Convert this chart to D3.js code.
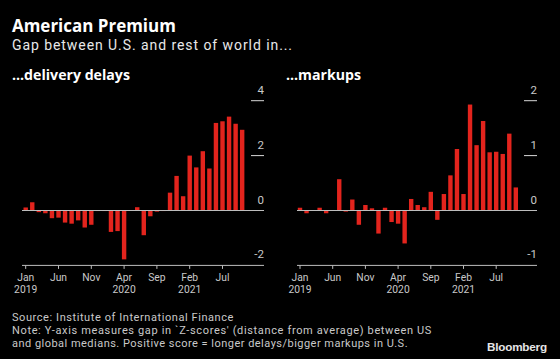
<!DOCTYPE html>
<html>
<head>
<meta charset="utf-8">
<script src="https://cdn.jsdelivr.net/npm/d3@7/dist/d3.min.js"></script>
<style>
  html, body { margin: 0; padding: 0; background: #000; }
  svg { display: block; }
</style>
</head>
<body>
<svg id="chart" width="560" height="359"></svg>
<script>
// ---------------- DATA ----------------
const months = [
  "2019-01","2019-02","2019-03","2019-04","2019-05","2019-06","2019-07","2019-08","2019-09","2019-10","2019-11","2019-12",
  "2020-01","2020-02","2020-03","2020-04","2020-05","2020-06","2020-07","2020-08","2020-09","2020-10","2020-11","2020-12",
  "2021-01","2021-02","2021-03","2021-04","2021-05","2021-06","2021-07","2021-08","2021-09","2021-10"
];
const deliveryDelays = [
  0.11, 0.30, -0.06, -0.10, -0.28, -0.26, -0.44, -0.48, -0.36, -0.62, -0.52, -0.02,
  -0.02, -0.78, -0.75, -1.78, -0.01, 0.12, -0.90, -0.21, -0.04, -0.02, 0.65, 1.26,
  0.52, 2.00, 1.57, 2.16, 1.53, 3.19, 3.25, 3.42, 3.16, 2.94
];
const markups = [
  0.05, -0.05, 0.00, 0.05, -0.05, 0.00, 0.57, -0.02, 0.20, -0.26, 0.10, 0.04,
  -0.42, 0.05, -0.21, -0.24, -0.60, 0.21, 0.10, 0.06, 0.34, -0.17, 0.30, 0.64,
  1.12, 0.30, 1.93, 1.19, 1.63, 1.06, 1.07, 1.03, 1.40, 0.42
];
const tickMonths = ["2019-01","2019-06","2019-11","2020-04","2020-09","2021-02","2021-07"];
const tickMonthLabels = ["Jan","Jun","Nov","Apr","Sep","Feb","Jul"];
const tickYearLabels = ["2019","","","2020","","2021",""];
const delaysTicks = [-2, 0, 2, 4];
const markupsTicks = [-1, 0, 1, 2];
const title = "American Premium";
const subtitle = "Gap between U.S. and rest of world in...";
const panelTitles = ["...delivery delays", "...markups"];
const footer = [
  "Source: Institute of International Finance",
  "Note: Y-axis measures gap in `Z-scores' (distance from average) between US",
  "and global medians. Positive score = longer delays/bigger markups in U.S."
];

// ---------------- STYLE ----------------
const RED = "#e3241d";
const TEXT = "#e8e8e8";
const GREY = "#c9c9c9";
const SANS = "Roboto, 'Noto Sans', sans-serif";
const HEAD = "'Open Sans', 'Noto Sans', sans-serif";

const svg = d3.select("#chart");
svg.append("rect").attr("width", 560).attr("height", 359).attr("fill", "#000");

// scale font size so the text spans the target width
function fit(sel, target) {
  const w = sel.node().getComputedTextLength();
  const fs = parseFloat(sel.attr("font-size"));
  if (w > 0) sel.attr("font-size", (fs * target / w).toFixed(2));
  return sel;
}
// keep font size, adjust letter spacing so the text spans the target width
function fitLS(sel, target) {
  const w = sel.node().getComputedTextLength();
  const n = sel.text().length;
  if (w > 0 && n > 1) sel.attr("letter-spacing", ((target - w) / n).toFixed(3));
  return sel;
}

// Titles
fit(svg.append("text").attr("x", 12).attr("y", 32).attr("fill", "#fff")
  .attr("font-family", HEAD).attr("font-weight", 700).attr("font-size", 15)
  .text(title), 164);
fitLS(svg.append("text").attr("x", 12).attr("y", 50).attr("fill", TEXT)
  .attr("font-family", SANS).attr("font-size", 14)
  .text(subtitle), 281);
const pt1 = svg.append("text").attr("x", 12).attr("y", 80).attr("fill", "#fff")
  .attr("font-family", HEAD).attr("font-weight", 700).attr("font-size", 12)
  .text(panelTitles[0]);
fit(pt1, 118);
svg.append("text").attr("x", 286).attr("y", 80).attr("fill", "#fff")
  .attr("font-family", HEAD).attr("font-weight", 700).attr("font-size", pt1.attr("font-size"))
  .text(panelTitles[1]);

// ---------------- PANELS ----------------
function drawPanel(cfg) {
  const g = svg.append("g");
  const x = d3.scaleBand().domain(months).range(cfg.band)
    .paddingInner(0.33).paddingOuter(0.165);
  const y = d3.scaleLinear().domain(cfg.yDomain).range([265.4, 100.7]);

  // y ticks (right side, short lines with labels above)
  g.selectAll("line.ytick").data(cfg.yTicks.filter(t => t > 0)).join("line")
    .attr("class", "ytick")
    .attr("x1", cfg.lineEnd - 13).attr("x2", cfg.lineEnd)
    .attr("y1", d => y(d)).attr("y2", d => y(d))
    .attr("stroke", "#d8d8d8").attr("stroke-width", 1);
  g.selectAll("text.ylab").data(cfg.yTicks).join("text")
    .attr("class", "ylab")
    .attr("x", cfg.lineEnd).attr("y", d => y(d) - 7)
    .attr("text-anchor", "end").attr("fill", GREY)
    .attr("font-family", SANS).attr("font-size", 11.5)
    .text(d => d3.format("d")(d).replace("−", "-"));

  // bars
  g.selectAll("rect.bar").data(cfg.values.map((v, i) => ({ m: months[i], v }))).join("rect")
    .attr("class", "bar")
    .attr("x", d => x(d.m))
    .attr("width", x.bandwidth())
    .attr("y", d => Math.min(y(0), y(d.v)))
    .attr("height", d => Math.abs(y(d.v) - y(0)))
    .attr("fill", RED);

  // zero line
  g.append("line").attr("x1", cfg.lineStart).attr("x2", cfg.lineEnd)
    .attr("y1", y(0)).attr("y2", y(0)).attr("stroke", "#bdbdbd").attr("stroke-width", 1);

  // x axis
  const ax = g.append("g").attr("transform", `translate(0,${y(cfg.yDomain[0])})`);
  ax.append("line").attr("x1", cfg.lineStart).attr("x2", cfg.lineEnd)
    .attr("y1", 0).attr("y2", 0).attr("stroke", "#bdbdbd").attr("stroke-width", 1);
  const xAxis = d3.axisBottom(x).tickValues(tickMonths).tickSize(3.5).tickSizeOuter(0)
    .tickFormat((d, i) => tickMonthLabels[i]);
  const axG = ax.append("g").call(xAxis);
  axG.select(".domain").remove();
  axG.selectAll(".tick line").attr("stroke", "#bdbdbd");
  axG.selectAll(".tick text")
    .attr("fill", GREY).attr("font-family", SANS).attr("font-size", 10.3)
    .attr("y", 15.8).attr("dy", null);
  axG.selectAll(".tick").each(function(d, i) {
    if (!tickYearLabels[i]) return;
    d3.select(this).append("text")
      .attr("x", 0).attr("y", 27.8).attr("text-anchor", "middle")
      .attr("fill", GREY).attr("font-family", SANS).attr("font-size", 10.3)
      .text(tickYearLabels[i]);
  });
}

drawPanel({ values: deliveryDelays, band: [22.42, 245.46], yDomain: [-2, 4], yTicks: delaysTicks, lineStart: 22, lineEnd: 264 });
drawPanel({ values: markups, band: [296.73, 519.09], yDomain: [-1, 2], yTicks: markupsTicks, lineStart: 297, lineEnd: 537 });

// ---------------- FOOTER ----------------
const footTargets = [222, 420, 396];
const footY = [321.3, 334.3, 347.3];
footer.forEach((s, i) => {
  fitLS(svg.append("text").attr("x", 12).attr("y", footY[i]).attr("fill", GREY)
    .attr("font-family", SANS).attr("font-size", 11).text(s), footTargets[i]);
});
fit(svg.append("text").attr("x", 487).attr("y", 350.5).attr("fill", "#e6e6e6")
  .attr("font-family", "'Liberation Sans', Arial, sans-serif").attr("font-weight", 700)
  .attr("font-size", 12).attr("letter-spacing", -0.2).text("Bloomberg"), 60);
</script>
</body>
</html>
